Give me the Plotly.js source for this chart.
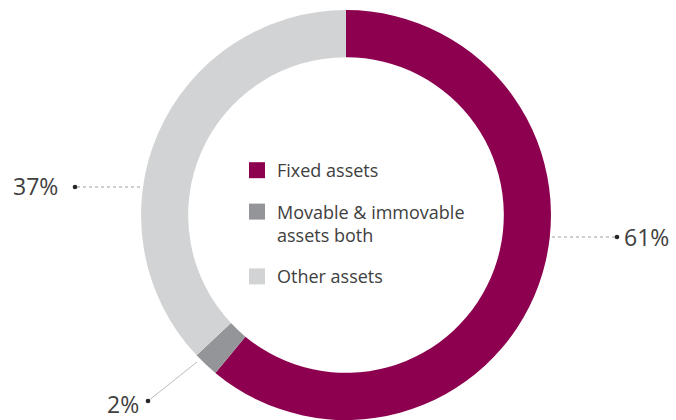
<!DOCTYPE html>
<html>
<head>
<meta charset="utf-8">
<script src="https://cdn.plot.ly/plotly-3.0.1.min.js"></script>
<style>html,body{margin:0;padding:0;background:#fff;}#chart{width:676px;height:420px;}</style>
</head>
<body>
<div id="chart"></div>
<script>
// ---- data ----
const categories = ['Fixed assets', 'Movable & immovable assets both', 'Other assets'];
const legendLabels = ['Fixed assets', 'Movable & immovable<br>assets both', 'Other assets'];
const shares = [61, 2, 37];
const colors = ['#8C004F', '#939598', '#D1D3D4'];

// ---- label placement (pixels): ring point, dot, text anchor ----
const W = 676, H = 420;
const leaders = [
  {ring: [552, 237], dot: [617, 237], text: [622, 237], align: 'left', dash: 'dot', color: '#9E9E9E'},
  {ring: [197, 362], dot: [148, 401], text: [141, 404], align: 'right', dash: 'solid', color: '#BDBDBD'},
  {ring: [140, 187], dot: [75, 187], text: [60, 186], align: 'right', dash: 'dot', color: '#9E9E9E'}
];
const px = x => x / W;
const py = y => (H - y) / H;

const pie = {
  type: 'pie',
  labels: categories,
  values: shares,
  sort: false,
  direction: 'clockwise',
  rotation: 0,
  hole: 0.77,
  marker: {colors: colors, line: {width: 0}},
  textinfo: 'none',
  hoverinfo: 'label+percent',
  showlegend: false,
  domain: {x: [140 / W, 552 / W], y: [0, 0.976]}
};

const legendTraces = categories.map((c, i) => ({
  type: 'scatter',
  mode: 'markers',
  x: [null], y: [null],
  name: legendLabels[i],
  legendgroup: 'g' + i,
  marker: {symbol: 'square', size: 16, color: colors[i]},
  showlegend: true,
  hoverinfo: 'skip'
}));

const shapes = [];
const annotations = [];
leaders.forEach((L, i) => {
  shapes.push({type: 'line', xref: 'paper', yref: 'paper',
    x0: px(L.ring[0]), y0: py(L.ring[1]), x1: px(L.dot[0]), y1: py(L.dot[1]),
    line: {color: L.color, width: 1, dash: L.dash}});
  shapes.push({type: 'circle', xref: 'paper', yref: 'paper',
    x0: px(L.dot[0] - 2.3), x1: px(L.dot[0] + 2.3), y0: py(L.dot[1] + 2.3), y1: py(L.dot[1] - 2.3),
    fillcolor: '#262626', line: {width: 0}});
  annotations.push({xref: 'paper', yref: 'paper', x: px(L.text[0]), y: py(L.text[1]),
    xanchor: L.align, yanchor: 'middle', showarrow: false,
    text: shares[i] + '%',
    font: {family: 'Open Sans', size: 23, color: '#404040'}});
});

const layout = {
  width: W, height: H,
  margin: {l: 0, r: 0, t: 0, b: 0},
  paper_bgcolor: '#ffffff',
  plot_bgcolor: '#ffffff',
  xaxis: {visible: false, domain: [0, 1]},
  yaxis: {visible: false, domain: [0, 1]},
  showlegend: true,
  legend: {
    x: 237 / W, y: py(152), xanchor: 'left', yanchor: 'top',
    traceorder: 'grouped', tracegroupgap: 15, valign: 'top',
    bgcolor: 'rgba(0,0,0,0)',
    font: {family: 'Open Sans', size: 18, color: '#404040'}
  },
  shapes: shapes,
  annotations: annotations
};

Plotly.newPlot('chart', [pie].concat(legendTraces), layout, {displayModeBar: false, staticPlot: true});
</script>
</body>
</html>
